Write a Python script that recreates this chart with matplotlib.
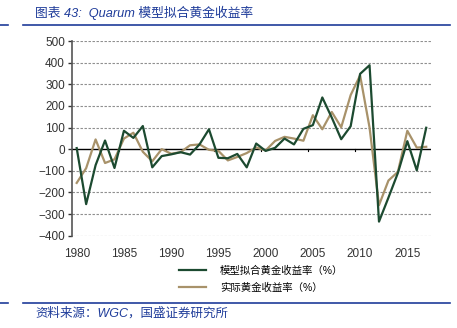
import numpy as np
import matplotlib
matplotlib.use("Agg")
import matplotlib.pyplot as plt
from matplotlib.lines import Line2D

plt.rcParams["font.family"] = ["Liberation Sans", "Noto Sans CJK SC", "DejaVu Sans"]

years = np.arange(1980, 2018)
model_fit = [5, -254, -74, 40, -87, 85, 52, 107, -84, -32,
             -24, -14, -25, 22, 92, -40, -42, -22, -84, 26,
             -8, 6, 49, 22, 94, 111, 239, 146, 46, 106,
             348, 388, -335, -224, -110, 37, -98, 99]
actual = [-156, -88, 45, -64, -47, 49, 76, -12, -56, 0,
          -21, -14, 18, 22, -3, -8, -52, -36, -18, 8,
          -6, 38, 57, 49, 39, 157, 92, 172, 101, 250,
          341, 100, -259, -145, -105, 85, 7, 11]
label_years = [1980, 1985, 1990, 1995, 2000, 2005, 2010, 2015]
yticks = list(range(-400, 501, 100))
series_names = ["模型拟合黄金收益率（%）", "实际黄金收益率（%）"]

GREEN = "#1c4a30"
TAN = "#a8926a"
BLUE = "#1f3c9a"

fig = plt.figure(figsize=(4.57, 3.28), dpi=100)
ax = fig.add_axes([0.1575, 0.2814, 0.943 - 0.1575, 0.875 - 0.2814])

for y in yticks:
    if y != 0:
        ax.axhline(y, color="#8f8f8f", lw=0.8, ls=(0, (2.2, 1.4)), zorder=0)
ax.axhline(0, color="black", lw=1.0, zorder=1)
# category-boundary ticks on the zero line
for b in np.arange(1984.5, 2017, 5):
    ax.plot([b, b], [0, -10], color="black", lw=0.8, zorder=1)

l1, = ax.plot(years, model_fit, color=GREEN, lw=1.6, zorder=3)
l2, = ax.plot(years, actual, color=TAN, lw=1.6, zorder=2)

ax.set_xlim(1979.5, 2017.5)
ax.set_ylim(-400, 500)
ax.set_yticks(yticks)
ax.set_xticks(label_years)
ax.tick_params(axis="x", length=0, pad=9, labelsize=8.5, colors="#333333")
ax.tick_params(axis="y", length=3, width=1, pad=2, labelsize=8.5,
               colors="#333333")
for s in ["top", "right", "bottom"]:
    ax.spines[s].set_visible(False)
ax.spines["left"].set_color("#555555")
ax.spines["left"].set_linewidth(1.2)

fig.legend([l1, l2], series_names, loc="center", bbox_to_anchor=(0.572, 0.149),
           frameon=False, fontsize=7.5, handlelength=2.6, labelspacing=0.7,
           handletextpad=1.3)

fig.text(35 / 457, 1 - 13 / 328, "图表 43:  Quarum 模型拟合黄金收益率", color=BLUE,
         fontsize=9.2, style="italic", va="center", ha="left")
fig.text(35 / 457, 1 - 313 / 328, "资料来源：WGC，国盛证券研究所", color=BLUE,
         fontsize=9, style="italic", va="center", ha="left")

for yy in [25, 303]:
    fy = 1 - yy / 328
    fig.add_artist(Line2D([0, 8 / 457], [fy, fy], color=BLUE, lw=1.2))
    fig.add_artist(Line2D([23 / 457, 450 / 457], [fy, fy], color=BLUE, lw=1.2))

fig.savefig("out.png", dpi=100)
